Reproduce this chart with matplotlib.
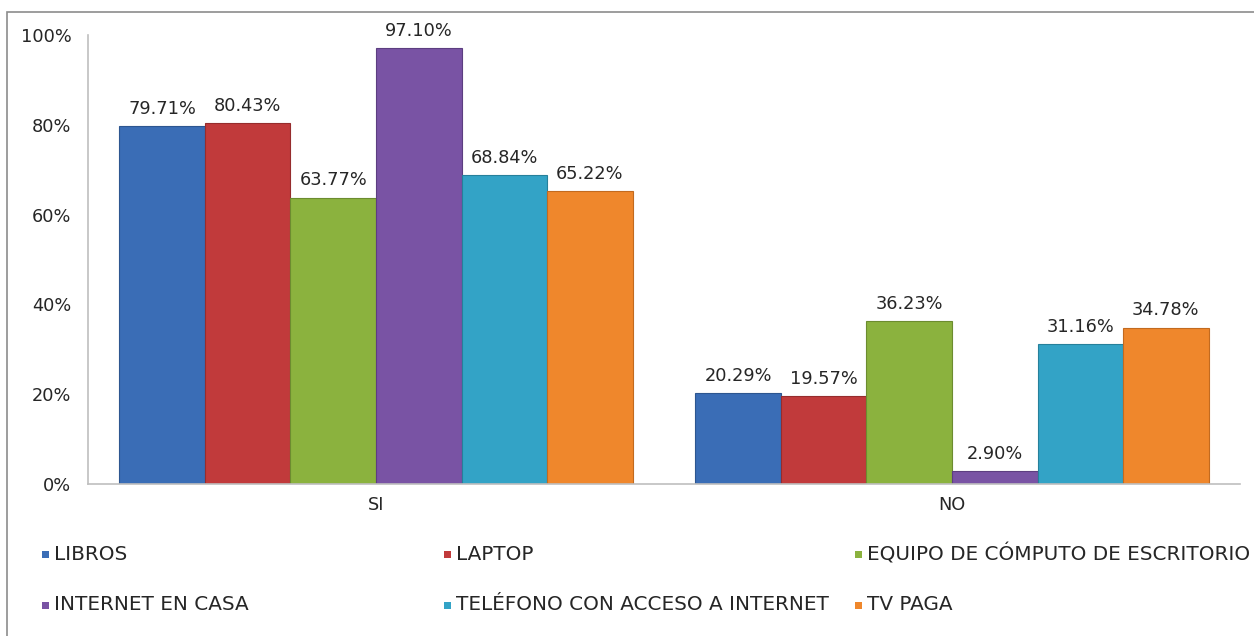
import matplotlib

matplotlib.use("Agg")
import matplotlib.pyplot as plt
import numpy as np
from matplotlib.patches import Rectangle

categories = ["SI", "NO"]
series = [
    "LIBROS",
    "LAPTOP",
    "EQUIPO DE CÓMPUTO DE ESCRITORIO",
    "INTERNET EN CASA",
    "TELÉFONO CON ACCESO A INTERNET",
    "TV PAGA",
]
values = [
    [79.71, 20.29],
    [80.43, 19.57],
    [63.77, 36.23],
    [97.10, 2.90],
    [68.84, 31.16],
    [65.22, 34.78],
]
yticks = [0, 20, 40, 60, 80, 100]

colors = ["#3a6db6", "#c13a3b", "#8bb23e", "#7953a4", "#33a3c6", "#ef872c"]
edges = ["#2d5690", "#962c2d", "#6c8c2f", "#5c3e80", "#26809b", "#c26a1f"]
TXT = "#262626"

plt.rcParams["font.family"] = ["DejaVu Sans"]

fig = plt.figure(figsize=(12.54, 6.36), dpi=100)
fig.patch.set_facecolor("white")
ax = fig.add_axes([0.0702, 0.239, 0.9186, 0.706])

# outer chart frame (bottom and right edges fall outside the image)
fig.patches.append(Rectangle((7 / 1254, -0.05), 1.0, 1.05 - 12 / 636, transform=fig.transFigure,
                             fill=False, edgecolor="#8c8c8c", lw=1.2))

x = np.arange(len(categories))
w = 0.1485
for i, (name, vals) in enumerate(zip(series, values)):
    pos = x + (i - 2.5) * w
    bars = ax.bar(pos, vals, width=w, color=colors[i], edgecolor=edges[i], linewidth=0.8, label=name)
    ax.bar_label(bars, labels=[f"{v:.2f}%" for v in vals], padding=6, fontsize=12.8, color=TXT)

ax.set_xlim(-0.5, 1.5)
ax.set_ylim(0, 100)
ax.set_yticks(yticks)
ax.set_yticklabels([f"{t}%" for t in yticks], fontsize=12.8, color=TXT)
ax.set_xticks(x)
ax.set_xticklabels(categories, fontsize=12.8, color=TXT)
ax.tick_params(axis="y", length=0, pad=12)
ax.tick_params(axis="x", length=0, pad=9)
for s in ["top", "right"]:
    ax.spines[s].set_visible(False)
for s in ["left", "bottom"]:
    ax.spines[s].set_color("#bfbfbf")
    ax.spines[s].set_linewidth(1.2)

# legend laid out row-wise in three columns
col_x = [42, 444, 855]
row_y = [554, 605]
for i, name in enumerate(series):
    col, row = i % 3, i // 3
    lx = col_x[col] / 1254
    ly = 1 - row_y[row] / 636
    fig.patches.append(Rectangle((lx, ly - 3.5 / 636), 7 / 1254, 7 / 636, transform=fig.transFigure,
                                 facecolor=colors[i], edgecolor="none"))
    fig.text(lx + 12 / 1254, ly, name, fontsize=14.4, color=TXT, va="center", ha="left")

fig.savefig("out.png", dpi=100, facecolor="white")
